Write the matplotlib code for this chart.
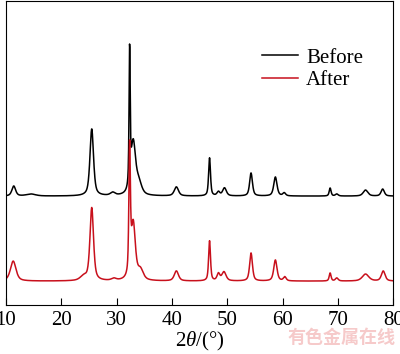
import numpy as np
import matplotlib.pyplot as plt

plt.rcParams['font.family'] = ['Liberation Serif', 'DejaVu Serif']
plt.rcParams['mathtext.fontset'] = 'custom'
plt.rcParams['mathtext.it'] = 'Liberation Serif:italic'
plt.rcParams['mathtext.rm'] = 'Liberation Serif'

# peak lists (2theta, height, half width)
before_pos = [11.4, 14.5, 25.5, 29.3, 32.35, 33.0, 34.0, 40.8, 46.8, 48.4, 49.5, 54.3, 58.7, 60.3, 68.6, 69.8, 75.0, 78.1]
before_h   = [10,   2,    67,   3,    134,   52,   12,   9,    38,   4,    8,    23,   19,   3,    8,    2,    6,    7]
before_w   = [0.4,  1.0,  0.38, 0.5,  0.12,  0.5,  0.6,  0.45, 0.2,  0.3,  0.4,  0.3,  0.35, 0.3,  0.2,  0.3,  0.5,  0.35]

after_pos = [11.3, 24.0, 25.5, 29.5, 32.35, 33.0, 34.3, 40.8, 46.8, 48.4, 49.4, 54.3, 58.7, 60.4, 68.6, 69.8, 75.0, 78.2]
after_h   = [20,   4,    73,   2,    125,   56,   10,   10,   40,   7,    9,    28,   21,   4,    8,    3,    7,    10]
after_w   = [0.6,  0.7,  0.38, 0.5,  0.16,  0.45, 0.6,  0.45, 0.2,  0.3,  0.45, 0.3,  0.35, 0.3,  0.2,  0.3,  0.7,  0.4]

before_offset = 109
after_offset = 24


def pattern(x, pos, h, w, eta=0.6):
    y = np.zeros_like(x)
    for p, a, g in zip(pos, h, w):
        lor = g**2 / ((x - p)**2 + g**2)
        gau = np.exp(-np.log(2) * ((x - p) / g)**2)
        y += a * (eta * lor + (1 - eta) * gau)
    return y


x = np.linspace(10, 80, 2000)
y_before = pattern(x, before_pos, before_h, before_w) + before_offset
y_after = pattern(x, after_pos, after_h, after_w) + after_offset

fig = plt.figure(figsize=(4, 3.54), dpi=100)
ax = fig.add_axes([0.015, 0.138, 0.968, 0.859])

ax.plot(x, y_before, color='k', lw=1.1, label='Before')
ax.plot(x, y_after, color='#c8101c', lw=1.1, label='After')

ax.set_xlim(10, 80)
ax.set_ylim(0, 304)
ax.set_xticks(range(10, 81, 10))
ax.set_yticks([])
ax.tick_params(axis='x', direction='in', length=5, labelsize=15, pad=4)
ax.set_xlabel(r'2$\it{\theta}$/(°)', fontsize=15, labelpad=0)

ax.legend(loc='upper left', bbox_to_anchor=(0.635, 0.88), frameon=False,
          fontsize=15, handlelength=1.7, handletextpad=0.4,
          labelspacing=0.15, borderpad=0)

fig.text(0.72, 0.03, '有色金属在线', color='#f6caca', fontsize=13,
         family=['Noto Sans CJK SC'], weight='bold')

plt.savefig('out.png', dpi=100)
